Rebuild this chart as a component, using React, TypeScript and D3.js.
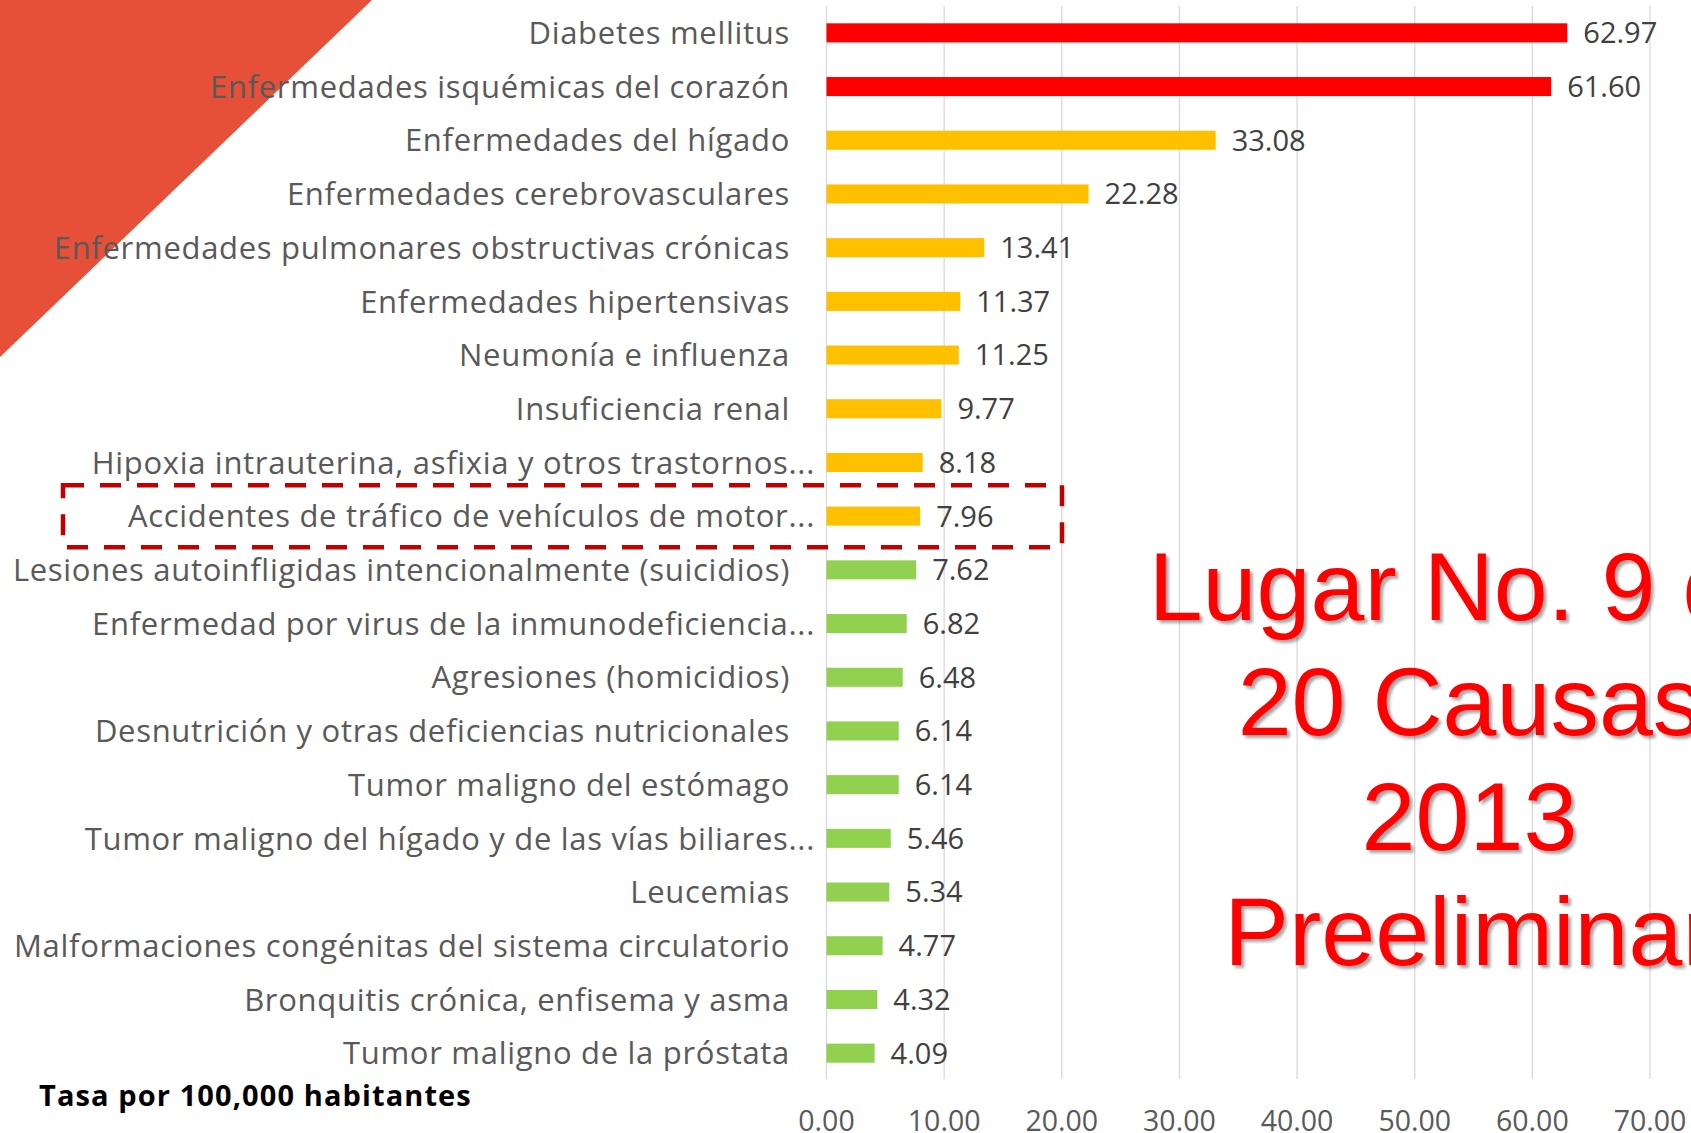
import { useRef, useEffect } from "react";
import * as d3 from "d3";

const causes = [
  "Diabetes mellitus",
  "Enfermedades isquémicas del corazón",
  "Enfermedades del hígado",
  "Enfermedades cerebrovasculares",
  "Enfermedades pulmonares obstructivas crónicas",
  "Enfermedades hipertensivas",
  "Neumonía e influenza",
  "Insuficiencia renal",
  "Hipoxia intrauterina, asfixia y otros trastornos...",
  "Accidentes de tráfico de vehículos de motor...",
  "Lesiones autoinfligidas intencionalmente (suicidios)",
  "Enfermedad por virus de la inmunodeficiencia...",
  "Agresiones (homicidios)",
  "Desnutrición y otras deficiencias nutricionales",
  "Tumor maligno del estómago",
  "Tumor maligno del hígado y de las vías biliares...",
  "Leucemias",
  "Malformaciones congénitas del sistema circulatorio",
  "Bronquitis crónica, enfisema y asma",
  "Tumor maligno de la próstata",
];
const rates = [
  62.97, 61.6, 33.08, 22.28, 13.41, 11.37, 11.25, 9.77, 8.18, 7.96, 7.62, 6.82,
  6.48, 6.14, 6.14, 5.46, 5.34, 4.77, 4.32, 4.09,
];
// grupo de color por causa: 0 rojo, 1 ámbar, 2 verde
const groups = [0, 0, 1, 1, 1, 1, 1, 1, 1, 1, 2, 2, 2, 2, 2, 2, 2, 2, 2, 2];
const groupColors = ["#FF0000", "#FFC000", "#92D050"];
const xTicks = [0, 10, 20, 30, 40, 50, 60, 70];
const highlighted = "Accidentes de tráfico de vehículos de motor...";
const noteText = "Tasa por 100,000 habitantes";
const titleLines = ["Lugar No. 9 de", "20 Causas", "2013", "Preeliminar"];

export default function App() {
  const ref = useRef<SVGSVGElement>(null);

  useEffect(() => {
    if (!ref.current) return;
    const W = 1691,
      H = 1133;
    const svg = d3.select(ref.current);
    svg.selectAll("*").remove();
    svg.attr("width", W).attr("height", H).attr("viewBox", `0 0 ${W} ${H}`);

    const defs = svg.append("defs");
    const f = defs
      .append("filter")
      .attr("id", "shadow")
      .attr("x", "-10%")
      .attr("y", "-10%")
      .attr("width", "130%")
      .attr("height", "130%");
    f.append("feDropShadow")
      .attr("dx", 3)
      .attr("dy", 3)
      .attr("stdDeviation", 1.5)
      .attr("flood-color", "#000")
      .attr("flood-opacity", 0.35);

    svg.append("rect").attr("width", W).attr("height", H).attr("fill", "#fff");

    // triángulo decorativo
    svg
      .append("path")
      .attr("d", "M0,0 L372,0 L0,357 Z")
      .attr("fill", "#E64F38");

    const x = d3.scaleLinear().domain([0, 70]).range([826.5, 1650]);
    const y = d3
      .scaleBand()
      .domain(causes)
      .range([6, 1080])
      .paddingInner(0.645)
      .paddingOuter(0.3225);
    const mid = (c: string) => y(c)! + y.bandwidth() / 2;

    // líneas de cuadrícula
    svg
      .append("g")
      .selectAll("line")
      .data(xTicks)
      .join("line")
      .attr("x1", (d) => x(d))
      .attr("x2", (d) => x(d))
      .attr("y1", 6)
      .attr("y2", 1079)
      .attr("stroke", "#D9D9D9")
      .attr("stroke-width", 1.3);

    const data = causes.map((c, i) => ({ c, v: rates[i], g: groups[i] }));

    svg
      .append("g")
      .selectAll("rect")
      .data(data)
      .join("rect")
      .attr("x", x(0))
      .attr("y", (d) => y(d.c)!)
      .attr("width", (d) => x(d.v) - x(0))
      .attr("height", y.bandwidth())
      .attr("fill", (d) => groupColors[d.g]);

    // etiquetas de categoría
    svg
      .append("g")
      .selectAll("text")
      .data(data)
      .join("text")
      .attr("x", (d) => (d.c.endsWith("...") ? 815 : 790))
      .attr("y", (d) => mid(d.c))
      .attr("dy", "0.36em")
      .attr("text-anchor", "end")
      .attr("font-family", "'Open Sans', sans-serif")
      .attr("font-size", 31)
      .attr("letter-spacing", 0.7)
      .attr("fill", "#595959")
      .text((d) => d.c);

    // valores
    svg
      .append("g")
      .selectAll("text")
      .data(data)
      .join("text")
      .attr("x", (d) => x(d.v) + 16)
      .attr("y", (d) => mid(d.c))
      .attr("dy", "0.36em")
      .attr("font-family", "'Open Sans', sans-serif")
      .attr("font-size", 29)
      .attr("fill", "#404040")
      .text((d) => d.v.toFixed(2));

    // eje x
    svg
      .append("g")
      .selectAll("text")
      .data(xTicks)
      .join("text")
      .attr("x", (d) => x(d))
      .attr("y", 1131)
      .attr("text-anchor", "middle")
      .attr("font-family", "'Open Sans', sans-serif")
      .attr("font-size", 28.5)
      .attr("fill", "#595959")
      .text((d) => d.toFixed(2));

    // recuadro punteado
    const yh = mid(highlighted);
    svg
      .append("rect")
      .attr("x", 63)
      .attr("y", yh - 31)
      .attr("width", 999)
      .attr("height", 62)
      .attr("fill", "none")
      .attr("stroke", "#C00000")
      .attr("stroke-width", 4.5)
      .attr("stroke-dasharray", "21 16");

    svg
      .append("text")
      .attr("x", 39)
      .attr("y", 1106)
      .attr("font-family", "'Open Sans', sans-serif")
      .attr("font-weight", 700)
      .attr("font-size", 29)
      .attr("letter-spacing", 1.1)
      .attr("fill", "#000")
      .text(noteText);

    // título grande
    svg
      .append("g")
      .attr("filter", "url(#shadow)")
      .selectAll("text")
      .data(titleLines)
      .join("text")
      .attr("x", 1469.5)
      .attr("y", (d, i) => 620 + i * 115)
      .attr("text-anchor", "middle")
      .attr("font-family", "'Liberation Sans', Arial, sans-serif")
      .attr("font-size", 97)
      .attr("fill", "#FF0000")
      .text((d) => d);
  }, []);

  return (
    <svg
      ref={ref}
      style={{ display: "block", position: "absolute", left: 0, top: 0 }}
    />
  );
}
